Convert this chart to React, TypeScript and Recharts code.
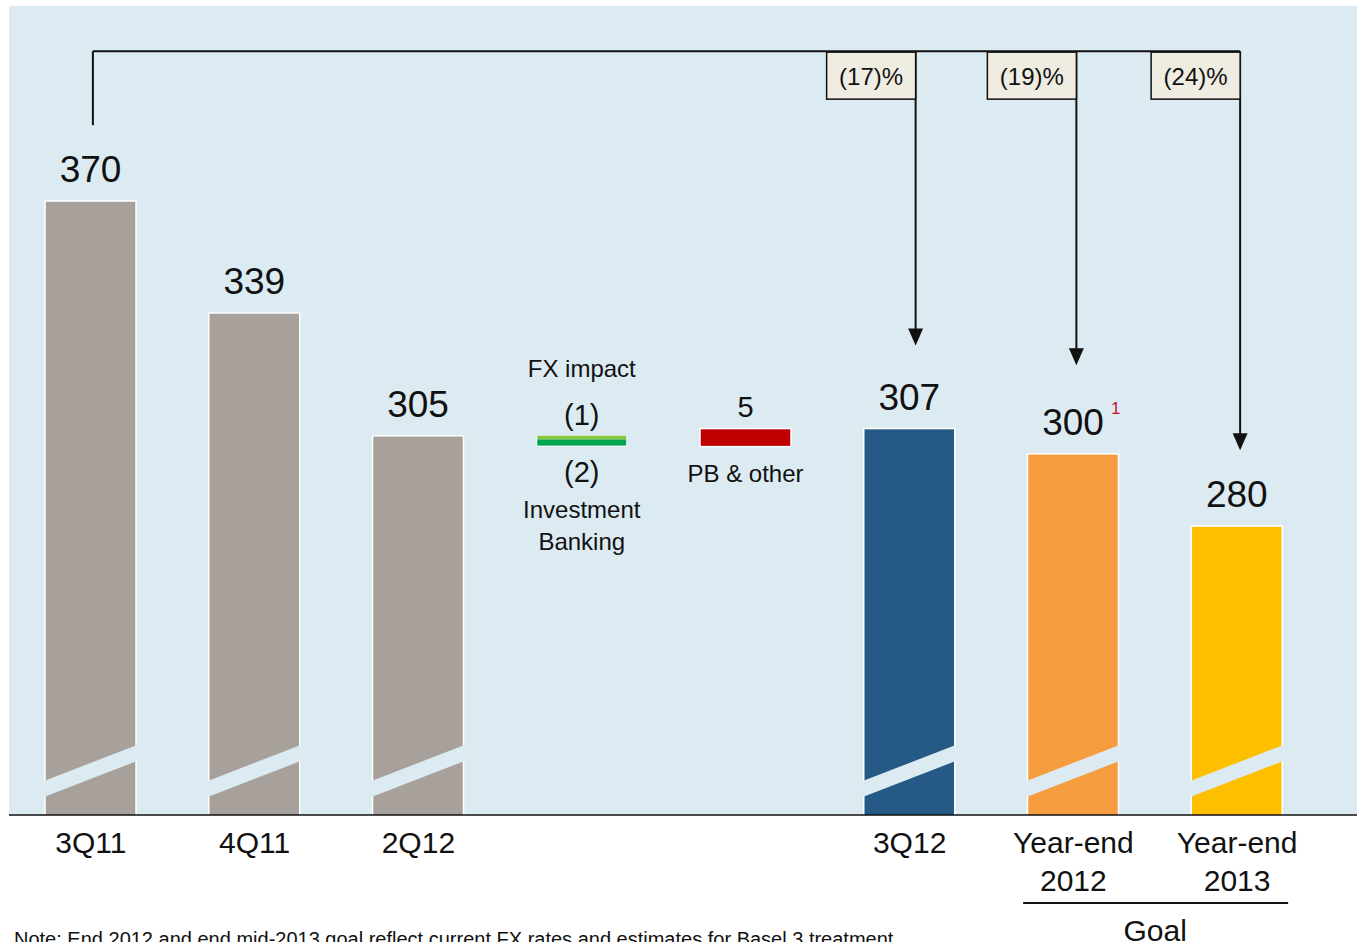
import { BarChart, Bar, XAxis, YAxis, Cell, LabelList, ReferenceLine, CartesianGrid, Customized } from 'recharts';

// RWA walk, CHF bn
const categories = ['3Q11', '4Q11', '2Q12', 'FX', 'PB', '3Q12', 'YE2012', 'YE2013'];
const tickLabels = [['3Q11'], ['4Q11'], ['2Q12'], [], [], ['3Q12'], ['Year-end', '2012'], ['Year-end', '2013']];
const levels = [370, 339, 305, null, null, 307, 300, 280];
const fxImpact = -1;
const ibImpact = -2;
const pbOther = 5;
const barColors = ['#a8a09a', '#a8a09a', '#a8a09a', '#00a651', '#c00000', '#255a87', '#f59c3f', '#fdbf00'];
const pctLabels = ['(17)%', '(19)%', '(24)%'];
const goalTargets = ['3Q12', 'YE2012', 'YE2013'];

const BG = '#dcebf1';
const FONT = '"Liberation Sans", Arial, sans-serif';
const FX_LIGHT = '#8dc63f';

const start = levels[2] as number;
const afterFx = start + fxImpact;
const afterIb = afterFx + ibImpact;
const afterPb = afterIb + pbOther;

const data = categories.map((name, i) => {
  if (name === 'FX') return { name, value: [afterIb, start] };
  if (name === 'PB') return { name, value: [afterIb, afterPb] };
  return { name, value: levels[i] };
});

const bracketY = 411.5;
const bracketStart = 391;
const arrowTips = [330, 324.5, 301];

function BarShape(props: any) {
  const { x, y, width, height, index, fill } = props;
  const name = categories[index];
  if (name === 'FX') {
    const fxH = (height * Math.abs(fxImpact)) / (Math.abs(fxImpact) + Math.abs(ibImpact));
    return (
      <g>
        <rect x={x} y={y} width={width} height={height} fill="#fff" />
        <rect x={x + 1} y={y} width={width - 2} height={fxH} fill={FX_LIGHT} />
        <rect x={x + 1} y={y + fxH} width={width - 2} height={height - fxH - 1} fill={fill} />
      </g>
    );
  }
  if (name === 'PB') {
    return <rect x={x} y={y} width={width} height={height} fill={fill} stroke="#fff" strokeWidth={1.5} />;
  }
  const yb = y + height;
  return (
    <g>
      <rect x={x} y={y} width={width} height={height + 2} fill={fill} stroke="#fff" strokeWidth={1.5} />
      <polygon
        points={`${x - 1},${yb - 34} ${x + width + 1},${yb - 70} ${x + width + 1},${yb - 54} ${x - 1},${yb - 18}`}
        fill={BG}
      />
    </g>
  );
}

function renderLabel(props: any) {
  const { x, y, width, height, index } = props;
  const cx = x + width / 2;
  const name = categories[index];
  const t = { fontFamily: FONT, fill: '#111', textAnchor: 'middle' as const };
  if (name === 'FX') {
    const bottom = y + height;
    return (
      <g>
        <text {...t} x={cx} y={y - 59} fontSize={24}>FX impact</text>
        <text {...t} x={cx} y={y - 11} fontSize={29}>({Math.abs(fxImpact)})</text>
        <text {...t} x={cx} y={bottom + 35} fontSize={29}>({Math.abs(ibImpact)})</text>
        <text {...t} x={cx} y={bottom + 71} fontSize={24}>Investment</text>
        <text {...t} x={cx} y={bottom + 103} fontSize={24}>Banking</text>
      </g>
    );
  }
  if (name === 'PB') {
    return (
      <g>
        <text {...t} x={cx} y={y - 12} fontSize={29}>{pbOther}</text>
        <text {...t} x={cx} y={y + height + 35} fontSize={24}>PB &amp; other</text>
      </g>
    );
  }
  return (
    <g>
      <text {...t} x={cx} y={y - 19} fontSize={37}>{levels[index]}</text>
      {name === 'YE2012' && (
        <text x={cx + 38} y={y - 40} fontSize={17} fill="#c8102e" fontFamily={FONT}>1</text>
      )}
    </g>
  );
}

function renderTick(props: any) {
  const { x, y, payload } = props;
  const i = categories.indexOf(payload.value);
  const lines = tickLabels[i] ?? [];
  return (
    <g>
      {lines.map((l, k) => (
        <text key={k} x={x} y={y + 38 + k * 38} textAnchor="middle" fontSize={30} fontFamily={FONT} fill="#111">
          {l}
        </text>
      ))}
      {payload.value === 'YE2013' && (
        <g>
          <line x1={x - 214} x2={x + 51} y1={y + 88} y2={y + 88} stroke="#111" strokeWidth={2} />
          <text x={x - 82} y={y + 126} textAnchor="middle" fontSize={30} fontFamily={FONT} fill="#111">
            Goal
          </text>
        </g>
      )}
    </g>
  );
}

const bracketShape = (p: any) => (
  <line x1={p.x1 + 2} y1={p.y1} x2={p.x2 + 3} y2={p.y2} stroke="#111" strokeWidth={2} />
);

const leftDrop = (p: any) => (
  <line x1={p.x1 + 2} y1={p.y1} x2={p.x2 + 2} y2={p.y2} stroke="#111" strokeWidth={2} />
);

const arrowShape = (label: string, dx: number) => (p: any) => {
  const ax = p.x1 + dx;
  const top = Math.min(p.y1, p.y2);
  const tip = Math.max(p.y1, p.y2);
  return (
    <g>
      <line x1={ax} y1={top} x2={ax} y2={tip - 16} stroke="#111" strokeWidth={2} />
      <polygon points={`${ax - 7.5},${tip - 17} ${ax + 7.5},${tip - 17} ${ax},${tip}`} fill="#111" />
      <rect x={ax - 89} y={top + 1} width={89} height={47} fill="#efece1" stroke="#111" strokeWidth={1.5} />
      <text x={ax - 44.5} y={top + 34} textAnchor="middle" fontSize={24} fontFamily={FONT} fill="#111">
        {label}
      </text>
    </g>
  );
};

const arrowDx = [6, 3, 3];

const Footnote = () => (
  <text x={14} y={946} fontSize={20} fontFamily={FONT} fill="#111">
    Note: End 2012 and end mid-2013 goal reflect current FX rates and estimates for Basel 3 treatment
  </text>
);

export default function App() {
  return (
    <div style={{ position: 'absolute', left: 0, top: 0, width: 1357, height: 942, overflow: 'hidden', background: '#fff' }}>
      <BarChart width={1357} height={942} data={data} margin={{ top: 6, right: 0, left: 9, bottom: 0 }} barSize={91}>
        <CartesianGrid horizontal={false} vertical={false} fill={BG} />
        <YAxis hide domain={[200, 424]} allowDataOverflow />
        <XAxis
          dataKey="name"
          height={127}
          interval={0}
          tickLine={false}
          tickSize={0}
          tickMargin={0}
          padding={{ left: 0, right: 38 }}
          axisLine={{ stroke: '#111', strokeWidth: 1.5 }}
          tick={renderTick}
        />
        <Bar dataKey="value" isAnimationActive={false} shape={<BarShape />}>
          {data.map((_, i) => (
            <Cell key={i} fill={barColors[i]} />
          ))}
          <LabelList dataKey="name" content={renderLabel} />
        </Bar>
        <ReferenceLine
          segment={[{ x: '3Q11', y: bracketStart }, { x: '3Q11', y: bracketY }]}
          shape={leftDrop}
        />
        <ReferenceLine
          segment={[{ x: '3Q11', y: bracketY }, { x: 'YE2013', y: bracketY }]}
          shape={bracketShape}
        />
        {goalTargets.map((g, i) => (
          <ReferenceLine
            key={g}
            segment={[{ x: g, y: bracketY }, { x: g, y: arrowTips[i] }]}
            shape={arrowShape(pctLabels[i], arrowDx[i])}
          />
        ))}
        <Customized component={Footnote} />
      </BarChart>
    </div>
  );
}
